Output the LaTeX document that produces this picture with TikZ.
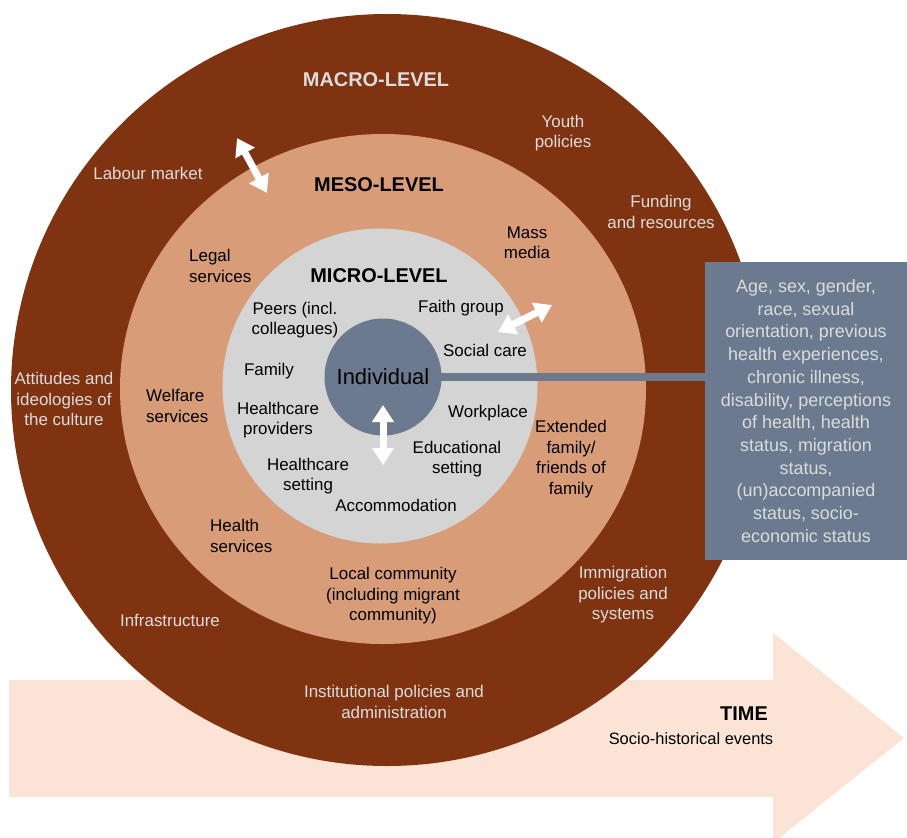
\documentclass[tikz,border=0pt]{standalone}
\usepackage{fontspec}
\setmainfont{Liberation Sans}
\usetikzlibrary{arrows.meta}
\definecolor{macrobrown}{HTML}{7F3311}
\definecolor{mesotan}{HTML}{D89D78}
\definecolor{microgray}{HTML}{D4D4D4}
\definecolor{slate}{HTML}{6B7A8F}
\definecolor{timepeach}{HTML}{FBE3D6}
\definecolor{lighttext}{HTML}{DCDCDC}

\begin{document}
\begin{tikzpicture}[x=1bp,y=-1bp,
    lbl/.style={font=\fontsize{17}{20.5}\selectfont, align=center, inner sep=0pt},
    macrolbl/.style={lbl, text=lighttext},
    headlbl/.style={font=\fontsize{20}{24}\selectfont\bfseries, inner sep=0pt},
    dblarrow/.style={draw=white, line width=7bp,
      {Triangle[width=21bp,length=17bp]}-{Triangle[width=21bp,length=17bp]}}]
  \useasboundingbox (0,0) rectangle (907,838);

  % time arrow
  \fill[timepeach] (9,680) -- (773,680) -- (773,633) -- (904,738)
    -- (773,843) -- (773,797) -- (9,797) -- cycle;

  % levels
  \fill[macrobrown] (387,390) circle [radius=376bp];
  \fill[mesotan] (383,389) ellipse [x radius=263bp, y radius=255bp];
  \fill[microgray] (380,386) circle [radius=157.5bp];

  % personal attributes
  \node (attrbox) [fill=slate, text=lighttext, minimum width=202bp, minimum height=298bp,
    align=center, inner sep=0pt, font=\fontsize{18}{22.8}\selectfont] at (806,411)
    {Age, sex, gender,\\race, sexual\\orientation, previous\\health experiences,\\chronic illness,\\disability, perceptions\\of health, health\\status, migration\\status,\\(un)accompanied\\status, socio-\\economic status};
  \coordinate (indivc) at (383,377);
  \draw[slate, line width=8bp] (indivc) -- (attrbox.west |- indivc);
  \node (indiv) [circle, fill=slate, minimum size=117bp, inner sep=0pt,
    font=\fontsize{22}{26}\selectfont] at (indivc) {Individual};

  % interactions
  \coordinate (macroA) at (237,138);
  \coordinate (mesoA) at (267,193);
  \coordinate (microB) at (498,332);
  \coordinate (mesoB) at (552,305);
  \coordinate (indivD) at (383,405);
  \coordinate (microD) at (383,465);
  \draw[dblarrow] (macroA) -- (mesoA);
  \draw[dblarrow] (microB) -- (mesoB);
  \draw[dblarrow] (indivD) -- (microD);

  % macro-level
  \node (macrohead) [headlbl, text=lighttext] at (376,80) {MACRO-LEVEL};
  \node (youth) [macrolbl] at (563,133) {Youth\\policies};
  \node (labour) [macrolbl] at (148,173) {Labour market};
  \node (funding) [macrolbl] at (661,212) {Funding\\and resources};
  \node (attitudes) [macrolbl] at (64,399) {Attitudes and\\ideologies of\\the culture};
  \node (infra) [macrolbl] at (170,620) {Infrastructure};
  \node (immig) [macrolbl] at (623,595) {Immigration\\policies and\\systems};
  \node (instit) [macrolbl] at (394,702) {Institutional policies and\\administration};

  % meso-level
  \node (mesohead) [headlbl] at (379,185) {MESO-LEVEL};
  \node (mass) [lbl] at (527,243) {Mass\\media};
  \node (legal) [lbl, align=left, anchor=west] at (189,266) {Legal\\services};
  \node (welfare) [lbl, align=left, anchor=west] at (146,406) {Welfare\\services};
  \node (health) [lbl, align=left, anchor=west] at (210,536) {Health\\services};
  \node (local) [lbl] at (393,596) {Local community\\(including migrant\\community)};
  \node (extended) [lbl] at (571,459) {Extended\\family/\\friends of\\family};

  % micro-level
  \node (microhead) [headlbl] at (379,276) {MICRO-LEVEL};
  \node (peers) [lbl] at (295,320) {Peers (incl.\\colleagues)};
  \node (faith) [lbl] at (461,308) {Faith group};
  \node (family) [lbl] at (269,371) {Family};
  \node (social) [lbl] at (485,350) {Social care};
  \node (hcprov) [lbl] at (278,420) {Healthcare\\providers};
  \node (work) [lbl] at (488,413) {Workplace};
  \node (educ) [lbl] at (457,459) {Educational\\setting};
  \node (hcset) [lbl] at (308,476) {Healthcare\\setting};
  \node (accom) [lbl] at (396,505) {Accommodation};

  % time
  \node (timehead) [headlbl] at (744,714) {TIME};
  \node (events) [lbl, font=\fontsize{16.5}{20}\selectfont] at (691,739) {Socio-historical events};
\end{tikzpicture}
\end{document}
